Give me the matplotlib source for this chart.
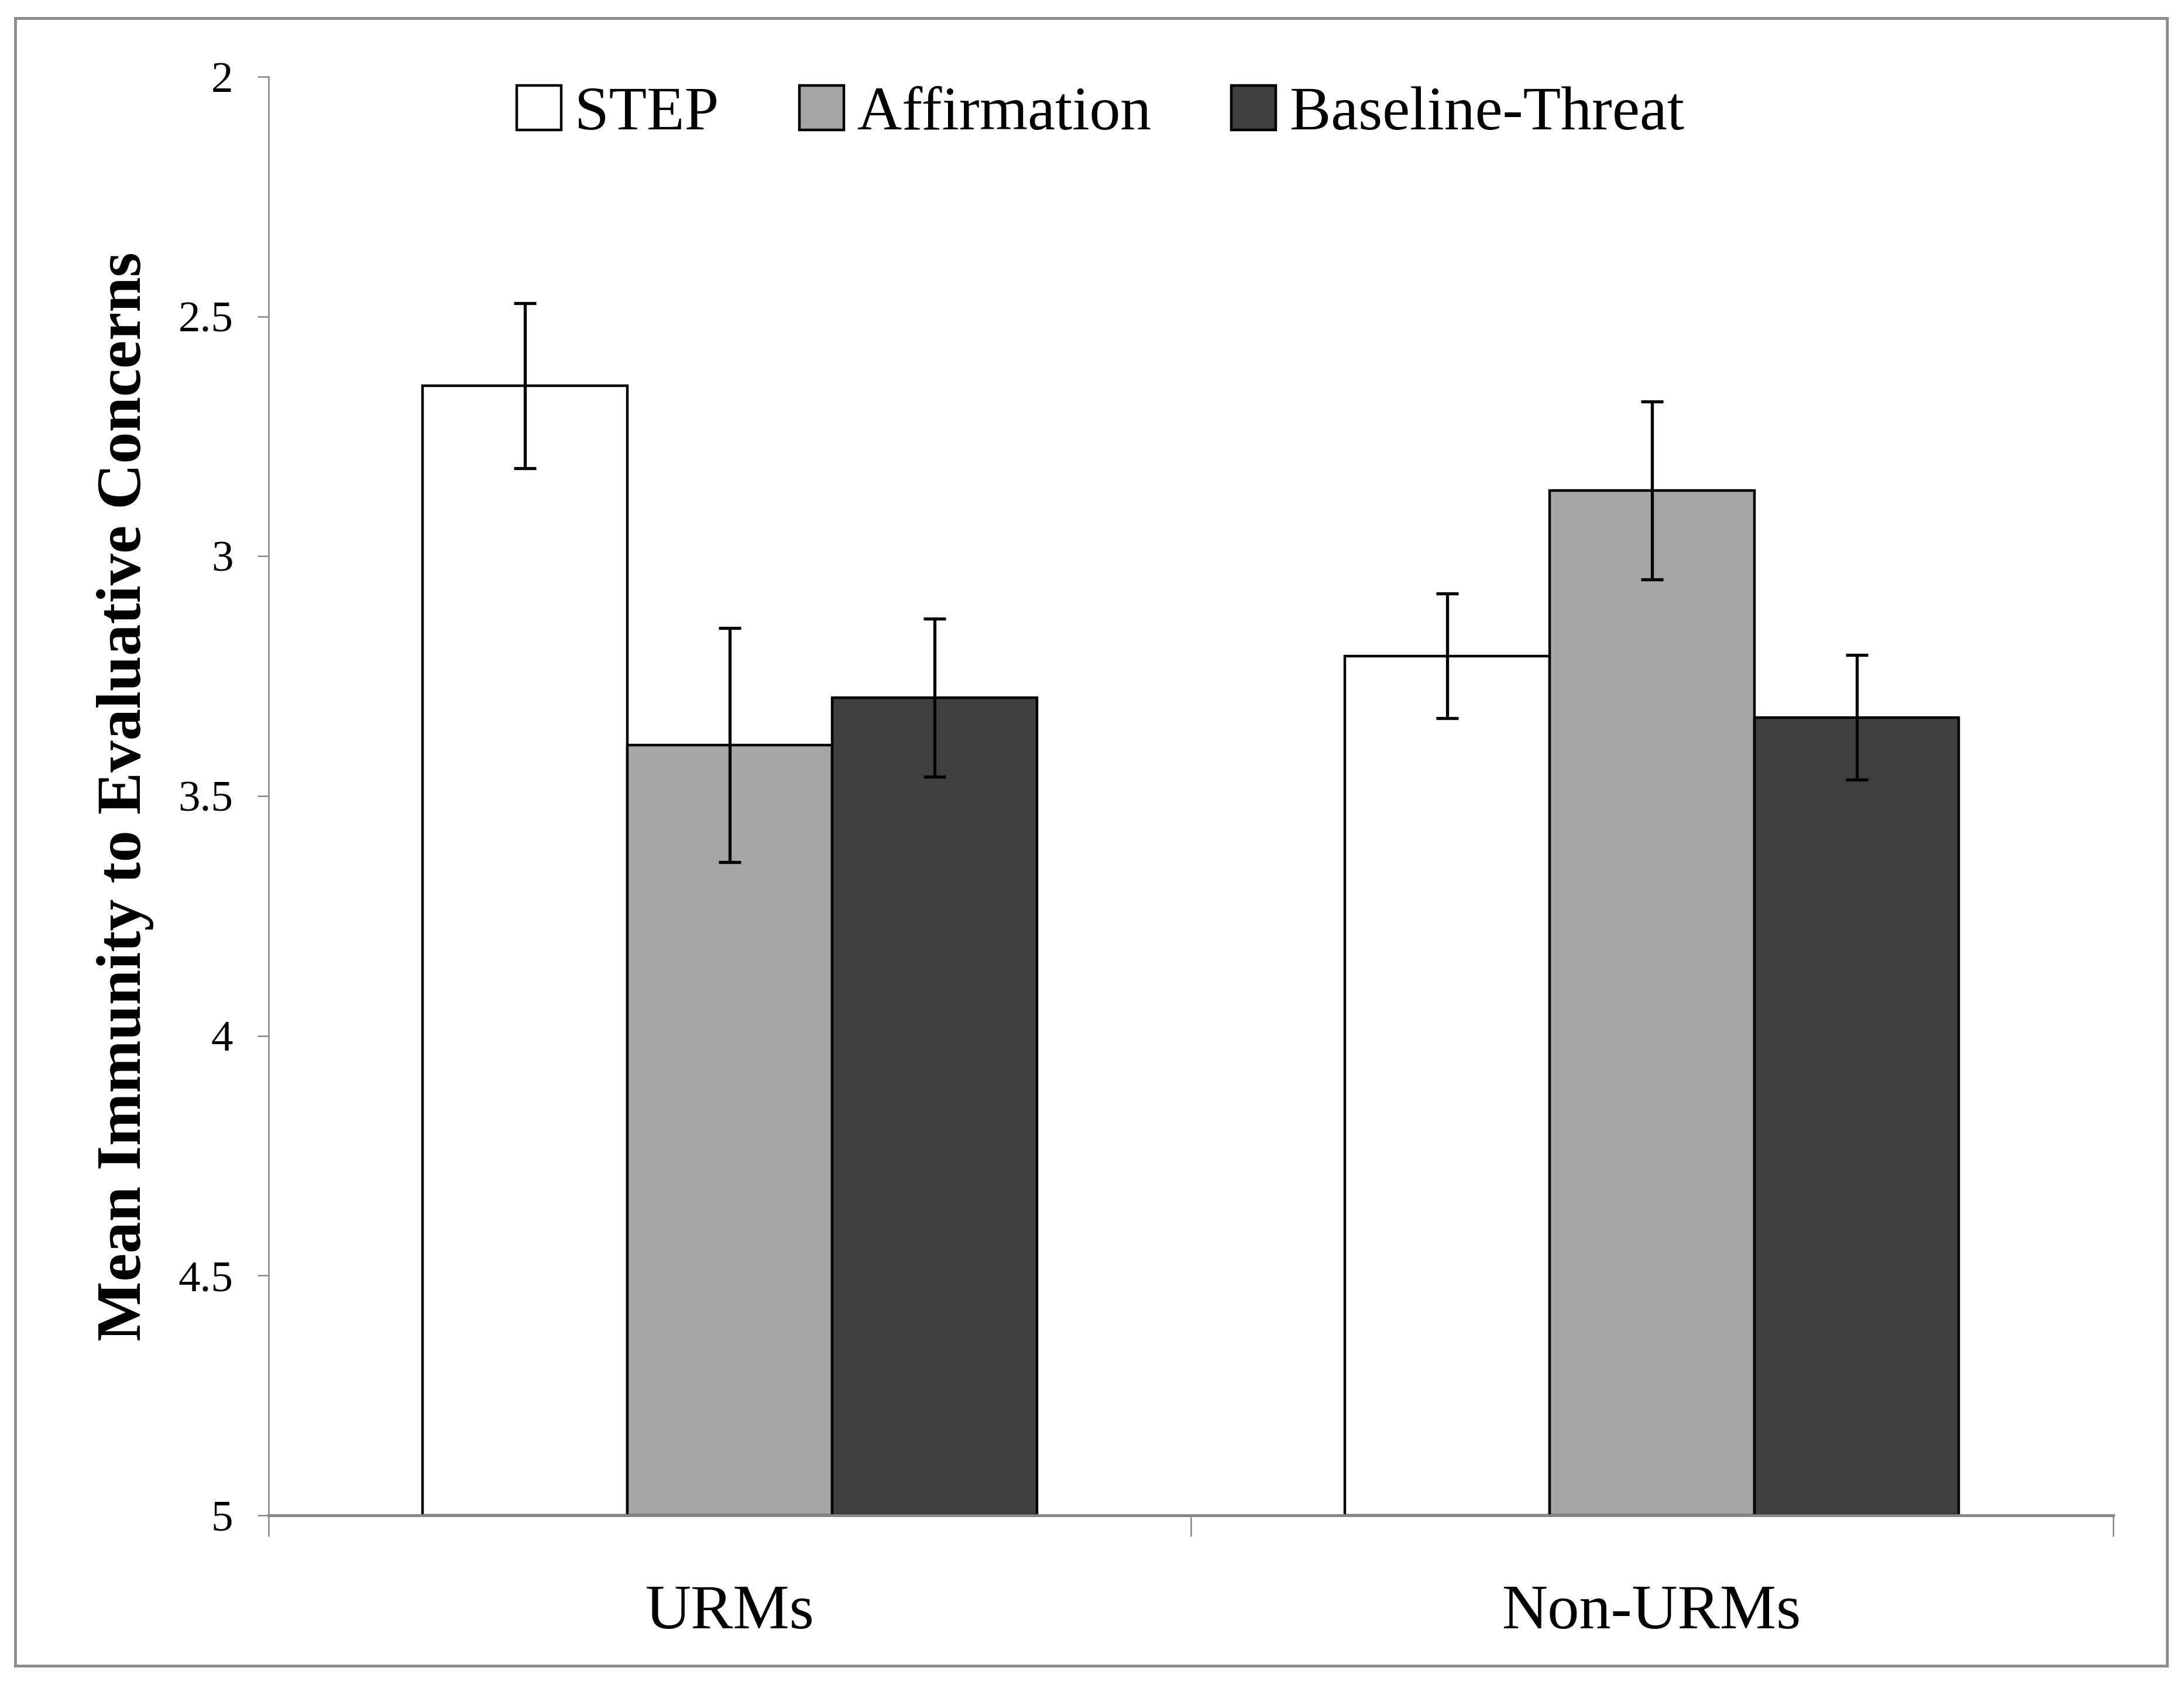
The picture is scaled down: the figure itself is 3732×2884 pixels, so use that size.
import matplotlib
matplotlib.use("Agg")
import matplotlib.pyplot as plt
import numpy as np
from matplotlib.patches import Rectangle

plt.rcParams['font.family'] = ['Liberation Serif', 'DejaVu Serif']

categories = ["URMs", "Non-URMs"]
series = ["STEP", "Affirmation", "Baseline-Threat"]
values = {
    "STEP": [2.645, 3.208],
    "Affirmation": [3.394, 2.863],
    "Baseline-Threat": [3.295, 3.336],
}
errors = {
    "STEP": [0.172, 0.130],
    "Affirmation": [0.244, 0.185],
    "Baseline-Threat": [0.165, 0.130],
}
colors = {"STEP": "#FFFFFF", "Affirmation": "#A6A6A6", "Baseline-Threat": "#3F3F3F"}
yticks = [2, 2.5, 3, 3.5, 4, 4.5, 5]
ytick_labels = ["2", "2.5", "3", "3.5", "4", "4.5", "5"]
base = 5

W, H = 3732, 2884
DW, DH = 1568, 1212
fig = plt.figure(figsize=(W / 100, H / 100), dpi=100)
ax = fig.add_axes([193 / DW, 1 - 1088 / DH, (1517 - 193) / DW, (1088 - 55) / DH])

x = np.arange(len(categories))
width = 0.222
handles = []
for i, s in enumerate(series):
    pos = x + (i - 1) * width
    vals = np.array(values[s])
    b = ax.bar(pos, vals - base, bottom=base, width=width, color=colors[s],
               edgecolor="black", linewidth=3.2, label=s, zorder=2)
    handles.append(b)
    ax.errorbar(pos, vals, yerr=errors[s], fmt="none", ecolor="black",
                elinewidth=3.8, capsize=14, capthick=3.8, zorder=3)

ax.set_ylim(5, 2)
ax.set_xlim(-0.5, 1.5)
ax.set_yticks(yticks)
ax.set_yticklabels(ytick_labels)
ax.set_xticks(x)
ax.set_xticklabels(categories)
ax.set_xticks([-0.5, 0.5, 1.5], minor=True)
ax.tick_params(axis="x", which="major", length=0, pad=85, labelsize=78)
ax.tick_params(axis="x", which="minor", length=26, width=1.8, color="#868686", direction="out")
ax.tick_params(axis="y", length=14, width=1.8, color="#868686", direction="out", pad=30, labelsize=54)

for sp in ["top", "right"]:
    ax.spines[sp].set_visible(False)
for sp in ["left", "bottom"]:
    ax.spines[sp].set_color("#868686")
    ax.spines[sp].set_linewidth(1.8)
ax.spines["bottom"].set_linewidth(3.5)

fig.text(90 / DW, 1 - 572 / DH, "Mean Immunity to Evaluative Concerns",
         rotation=90, ha="center", va="center", fontsize=78, fontweight="bold")

leg = fig.legend(handles=handles, labels=series, loc="center",
                 bbox_to_anchor=(790 / DW, 1 - 82 / DH), ncol=3, frameon=False,
                 fontsize=76, handlelength=0.72, handleheight=0.72,
                 handletextpad=0.22, columnspacing=1.3)

fig.patches.append(Rectangle((11 / DW, 1 - 1196 / DH), (1556 - 11) / DW, (1196 - 13) / DH,
                             transform=fig.transFigure, fill=False,
                             edgecolor="#8C8C8C", linewidth=3.5))

fig.savefig("out.png", dpi=100)
